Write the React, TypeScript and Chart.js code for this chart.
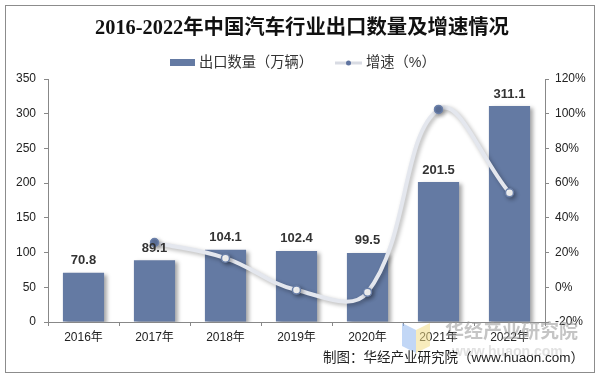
import React, { useEffect, useRef } from "react";
import { Chart, registerables } from "chart.js";

Chart.register(...registerables);

const categories = ["2016年", "2017年", "2018年", "2019年", "2020年", "2021年", "2022年"];
const exportVolume = [70.8, 89.1, 104.1, 102.4, 99.5, 201.5, 311.1];
const growthRate = [null, 25.8, 16.8, -1.6, -2.8, 102.5, 54.4];
const filledPoints = [false, true, false, false, false, true, false];
const leftTicks = [0, 50, 100, 150, 200, 250, 300, 350];
const rightTicks = [-20, 0, 20, 40, 60, 80, 100, 120];

const TITLE = "2016-2022年中国汽车行业出口数量及增速情况";
const BAR_LABEL = "出口数量（万辆）";
const LINE_LABEL = "增速（%）";
const SOURCE = "制图：华经产业研究院（www.huaon.com）";
const WATERMARK = "华经产业研究院";
const WATERMARK_URL = "www.huaon.com";

const BAR_COLOR = "#647aa3";
const POINT_BORDER = "#6b80a9";
const LINE_COLOR = "#e4e7ee";
const SANS = "Arial, 'Liberation Sans', 'Noto Sans CJK SC', sans-serif";

function fitText(ctx: any, text: string, family: string, weight: string, target: number) {
  ctx.font = weight + " 20px " + family;
  const w = ctx.measureText(text).width;
  const size = (20 * target) / w;
  ctx.font = weight + " " + size.toFixed(2) + "px " + family;
}

const decorPlugin = {
  id: "decor",
  beforeDatasetDraw(chart: any, args: any) {
    const ctx = chart.ctx;
    ctx.save();
    if (args.index === 0) {
      ctx.shadowColor = "rgba(0,0,0,0.35)";
      ctx.shadowOffsetX = 3;
      ctx.shadowOffsetY = 2;
      ctx.shadowBlur = 4;
    } else {
      ctx.shadowColor = "rgba(0,0,0,0.3)";
      ctx.shadowOffsetX = 2;
      ctx.shadowOffsetY = 2;
      ctx.shadowBlur = 4;
    }
  },
  afterDatasetDraw(chart: any) {
    chart.ctx.restore();
  },
  afterDatasetsDraw(chart: any) {
    const ctx = chart.ctx;
    const meta = chart.getDatasetMeta(0);
    ctx.save();
    ctx.font = "bold 13px " + SANS;
    ctx.fillStyle = "#333333";
    ctx.textAlign = "center";
    ctx.textBaseline = "middle";
    meta.data.forEach((bar: any, i: number) => {
      ctx.fillText(exportVolume[i].toFixed(1), bar.x, bar.y - 12);
    });
    ctx.restore();
  },
  afterDraw(chart: any) {
    const ctx = chart.ctx;
    ctx.save();
    // outer border
    ctx.strokeStyle = "#8c8c8c";
    ctx.lineWidth = 1;
    ctx.strokeRect(5.5, 5.5, 589, 367);
    // title
    ctx.fillStyle = "#111111";
    fitText(ctx, TITLE, "'Liberation Serif', 'Times New Roman', 'Noto Sans CJK SC', serif", "bold", 414);
    ctx.textAlign = "center";
    ctx.textBaseline = "middle";
    ctx.fillText(TITLE, 302, 29);
    // legend
    ctx.textAlign = "left";
    fitText(ctx, BAR_LABEL, SANS, "normal", 114);
    ctx.fillStyle = BAR_COLOR;
    ctx.fillRect(170, 59, 25, 7);
    ctx.fillStyle = "#333333";
    ctx.fillText(BAR_LABEL, 199, 63);
    ctx.strokeStyle = "#d8dbe3";
    ctx.lineWidth = 3;
    ctx.beginPath();
    ctx.moveTo(335, 63);
    ctx.lineTo(362, 63);
    ctx.stroke();
    ctx.fillStyle = "#5f74a0";
    ctx.beginPath();
    ctx.arc(348.5, 63, 2.5, 0, Math.PI * 2);
    ctx.fill();
    ctx.fillStyle = "#333333";
    ctx.fillText(LINE_LABEL, 366, 63);
    // logo
    ctx.globalAlpha = 0.55;
    ctx.fillStyle = "#8fb6ef";
    ctx.beginPath();
    ctx.moveTo(402, 323);
    ctx.lineTo(416, 330);
    ctx.lineTo(416, 353);
    ctx.lineTo(402, 346);
    ctx.closePath();
    ctx.fill();
    ctx.fillStyle = "#f3dc86";
    ctx.beginPath();
    ctx.moveTo(416, 330);
    ctx.lineTo(430, 323);
    ctx.lineTo(430, 346);
    ctx.lineTo(416, 353);
    ctx.closePath();
    ctx.fill();
    ctx.globalAlpha = 1;
    // watermark
    ctx.fillStyle = "rgba(150,150,150,0.55)";
    fitText(ctx, WATERMARK, "'Noto Sans CJK SC', sans-serif", "bold", 133);
    ctx.textAlign = "left";
    ctx.fillText(WATERMARK, 445, 331);
    ctx.fillStyle = "rgba(170,170,170,0.35)";
    ctx.font = "bold 14px " + SANS;
    ctx.fillText(WATERMARK_URL, 452, 352);
    // source
    ctx.fillStyle = "#222222";
    fitText(ctx, SOURCE, SANS, "normal", 261);
    ctx.textAlign = "right";
    ctx.fillText(SOURCE, 584, 358);
    ctx.restore();
  },
};

export default function App() {
  const ref = useRef<HTMLCanvasElement>(null);
  useEffect(() => {
    if (!ref.current) return;
    const chart = new Chart(ref.current, {
      type: "bar",
      data: {
        labels: categories,
        datasets: [
          {
            type: "bar",
            label: BAR_LABEL,
            data: exportVolume,
            backgroundColor: BAR_COLOR,
            yAxisID: "y",
            categoryPercentage: 1,
            barPercentage: 0.58,
            order: 2,
          },
          {
            type: "line",
            label: LINE_LABEL,
            data: growthRate as any,
            yAxisID: "y1",
            borderColor: LINE_COLOR,
            borderWidth: 4,
            tension: 0.4,
            pointRadius: 4,
            pointBorderWidth: 1.5,
            pointBorderColor: POINT_BORDER,
            pointBackgroundColor: filledPoints.map((f) => (f ? "#6277a2" : "#ffffff")),
            order: 1,
          },
        ],
      },
      options: {
        responsive: false,
        animation: false,
        layout: { padding: { top: 79, left: 0, right: 0, bottom: 0 } },
        plugins: { legend: { display: false }, title: { display: false }, tooltip: { enabled: false } },
        scales: {
          x: {
            offset: true,
            grid: { display: true, drawOnChartArea: false, offset: true, tickLength: 4, color: "#888888" },
            border: { display: true, color: "#888888" },
            ticks: { color: "#222222", font: { size: 12, family: SANS }, padding: 4 },
            afterFit(scale: any) {
              scale.height = 55;
            },
          },
          y: {
            position: "left",
            min: 0,
            max: 350,
            afterBuildTicks(scale: any) {
              scale.ticks = leftTicks.map((v) => ({ value: v }));
            },
            grid: { drawOnChartArea: false, tickLength: 4, color: "#888888" },
            border: { display: true, color: "#888888" },
            ticks: { color: "#222222", font: { size: 12, family: SANS }, padding: 8 },
            afterFit(scale: any) {
              scale.width = 48;
            },
          },
          y1: {
            position: "right",
            min: -20,
            max: 120,
            afterBuildTicks(scale: any) {
              scale.ticks = rightTicks.map((v) => ({ value: v }));
            },
            grid: { drawOnChartArea: false, tickLength: 4, color: "#888888" },
            border: { display: true, color: "#888888" },
            ticks: {
              color: "#222222",
              font: { size: 12, family: SANS },
              padding: 6,
              callback: (v: any) => v + "%",
            },
            afterFit(scale: any) {
              scale.width = 55;
            },
          },
        },
      },
      plugins: [decorPlugin],
    } as any);
    return () => chart.destroy();
  }, []);
  return (
    <div style={{ position: "absolute", left: 0, top: 0, width: 600, height: 377, background: "#ffffff" }}>
      <canvas ref={ref} width={600} height={377} style={{ width: 600, height: 377, display: "block" }} />
    </div>
  );
}
